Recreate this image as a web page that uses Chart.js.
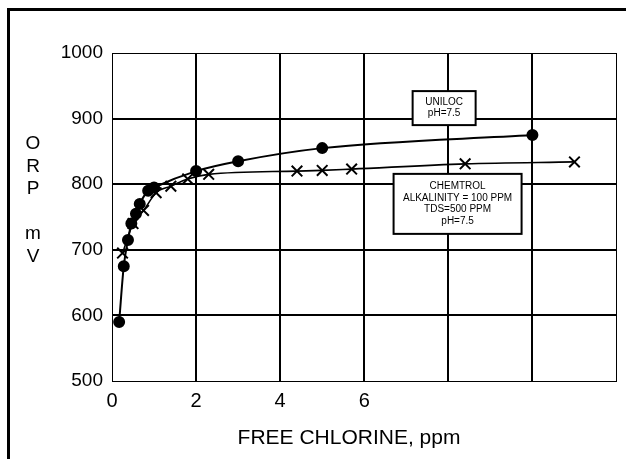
<!DOCTYPE html>
<html>
<head>
<meta charset="utf-8">
<script src="https://cdn.jsdelivr.net/npm/chart.js@4.4.0/dist/chart.umd.min.js"></script>
<style>
  body { margin: 0; background: #fff; }
  canvas { display: block; }
</style>
</head>
<body>
<canvas id="orp" width="626" height="459"></canvas>
<script>
// ORP vs free chlorine
var unilocX   = [0.17, 0.28, 0.38, 0.46, 0.57, 0.66, 0.86, 1.0, 2.0, 3.0, 5.0, 10.0];
var unilocY   = [590, 675, 715, 740, 755, 770, 790, 795, 820, 835, 855, 875];
var chemtrolX = [0.25, 0.5, 0.75, 1.05, 1.4, 1.8, 2.3, 4.4, 5.0, 5.7, 8.4, 11.0];
var chemtrolY = [695, 740, 760, 787, 797, 808, 815, 820, 821, 823, 831, 834];
var xTickLabels = ['0', '2', '4', '6', '', '', ''];
var yTickLabels = ['500', '600', '700', '800', '900', '1000'];
var xTitle = 'FREE CHLORINE, ppm';
var yTitle = ['O', 'R', 'P', '', 'm', 'V'];
var unilocNote = ['UNILOC', 'pH=7.5'];
var chemtrolNote = ['CHEMTROL', 'ALKALINITY = 100 PPM', 'TDS=500 PPM', 'pH=7.5'];

function pairs(xs, ys) {
  return xs.map(function(x, i) { return {x: x, y: ys[i]}; });
}

var FONT = '"Liberation Sans", Arial, sans-serif';
Chart.defaults.font.family = FONT;
Chart.defaults.color = '#000';

// note boxes, anchored at a data point (centre), size in px
var notes = [
  {x: 7.9, y: 916, w: 63, h: 34, lh: 10.8, lines: unilocNote},
  {x: 8.22, y: 770, w: 128, h: 60, lh: 11.5, lines: chemtrolNote}
];

var extras = {
  id: 'extras',
  afterDraw: function(chart) {
    var c = chart.ctx, xs = chart.scales.x, ys = chart.scales.y;
    c.save();
    c.fillStyle = '#000';
    c.fillRect(7, 8, 626, 3);
    c.fillRect(7, 8, 3, 459);

    c.textAlign = 'center';
    c.textBaseline = 'alphabetic';
    c.font = '19px ' + FONT;
    yTitle.forEach(function(t, i) { c.fillText(t, 33, 149 + i * 22.5); });

    c.textBaseline = 'middle';
    c.font = '21px ' + FONT;
    c.fillText(xTitle, 349, 438);

    notes.forEach(function(b) {
      var cx = xs.getPixelForValue(b.x), cy = ys.getPixelForValue(b.y);
      c.fillStyle = '#fff';
      c.fillRect(cx - b.w / 2, cy - b.h / 2, b.w, b.h);
      c.lineWidth = 2;
      c.strokeStyle = '#000';
      c.strokeRect(cx - b.w / 2, cy - b.h / 2, b.w, b.h);
      c.fillStyle = '#000';
      c.font = '10px ' + FONT;
      var n = b.lines.length;
      b.lines.forEach(function(t, i) {
        c.fillText(t, cx, cy + (i - (n - 1) / 2) * b.lh);
      });
    });
    c.restore();
  }
};

function gridWidth(ctx) {
  return (ctx.index === 0 || ctx.index === ctx.scale.ticks.length - 1) ? 1 : 2;
}

var ctx = document.getElementById('orp');
var chart = new Chart(ctx, {
  type: 'line',
  data: {
    datasets: [{
      label: 'UNILOC',
      data: pairs(unilocX, unilocY),
      borderColor: '#000',
      backgroundColor: '#000',
      borderWidth: 2,
      pointStyle: 'circle',
      pointRadius: 5,
      pointBackgroundColor: '#000',
      cubicInterpolationMode: 'monotone'
    }, {
      label: 'CHEMTROL',
      data: pairs(chemtrolX, chemtrolY),
      borderColor: '#000',
      backgroundColor: '#000',
      borderWidth: 1.6,
      pointStyle: 'crossRot',
      pointRadius: 7.5,
      pointBorderWidth: 2,
      cubicInterpolationMode: 'monotone'
    }]
  },
  options: {
    responsive: false,
    animation: false,
    layout: { padding: { top: 53, right: 9, left: 0, bottom: 0 } },
    plugins: { legend: { display: false }, tooltip: { enabled: false } },
    scales: {
      x: {
        type: 'linear',
        min: 0, max: 12,
        grid: { color: '#000', lineWidth: gridWidth, drawTicks: false },
        border: { display: true, color: '#000', width: 1 },
        ticks: {
          stepSize: 2,
          padding: 8,
          maxRotation: 0,
          font: { size: 20 },
          callback: function(v, i) { return xTickLabels[i]; }
        },
        afterFit: function(s) { s.height = 78; }
      },
      y: {
        min: 500, max: 1000,
        grid: { color: '#000', lineWidth: gridWidth, drawTicks: false },
        border: { display: true, color: '#000', width: 1 },
        ticks: {
          stepSize: 100,
          padding: 9,
          font: { size: 19 },
          callback: function(v, i) { return yTickLabels[i]; }
        },
        afterFit: function(s) { s.width = 112; }
      }
    }
  },
  plugins: [extras]
});
</script>
</body>
</html>
